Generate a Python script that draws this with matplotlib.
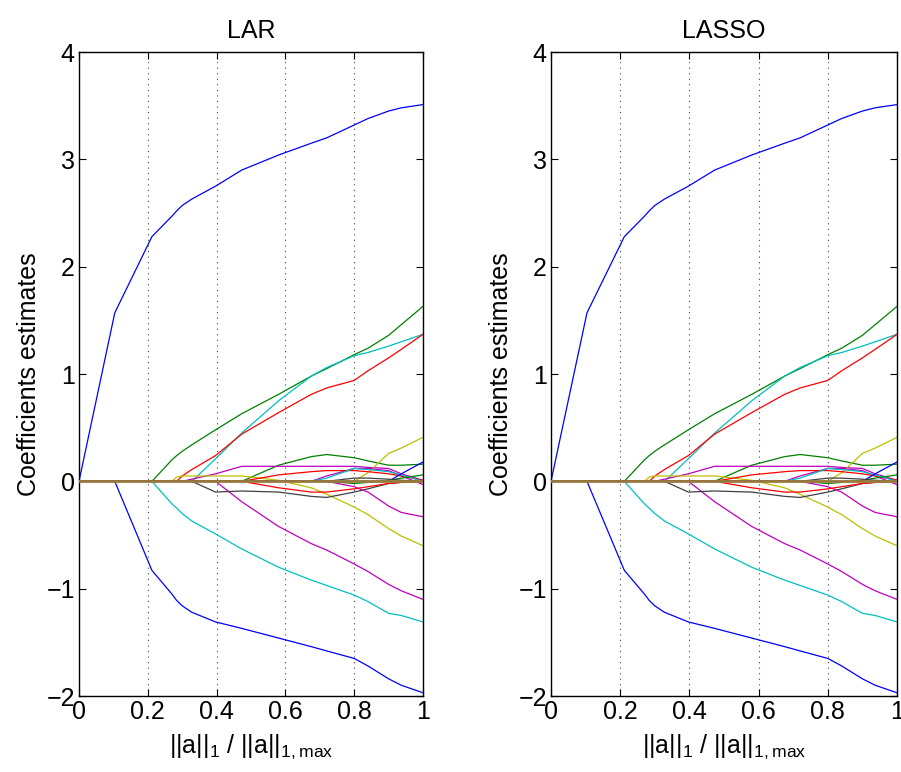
import numpy as np
import matplotlib
matplotlib.use('Agg')
import matplotlib.pyplot as plt

plt.rcParams['font.family'] = ['Liberation Sans', 'DejaVu Sans']
plt.rcParams['mathtext.default'] = 'regular'

# Normalised L1 norm at the breakpoints of the path
l1_ratio = [0, 0.104, 0.212, 0.27, 0.284, 0.30, 0.328, 0.397, 0.473,
            0.58, 0.675, 0.72, 0.80, 0.84, 0.90, 0.937, 1.0]

# Coefficient paths
blue_top = [0, 1.57, 2.28, 2.47, 2.52, 2.57, 2.63, 2.75, 2.90,
            3.04, 3.15, 3.20, 3.32, 3.38, 3.45, 3.48, 3.51]
blue_bottom = [0, 0, -0.83, -1.05, -1.11, -1.16, -1.22, -1.31, -1.37,
               -1.46, -1.54, -1.58, -1.65, -1.72, -1.84, -1.90, -1.97]
cyan_low = [0, 0, 0, -0.21, -0.25, -0.30, -0.37, -0.49, -0.63,
            -0.80, -0.92, -0.97, -1.06, -1.12, -1.23, -1.25, -1.31]
green_top = [0, 0, 0, 0.20, 0.24, 0.28, 0.34, 0.48, 0.63,
             0.81, 0.98, 1.05, 1.18, 1.24, 1.36, 1.46, 1.63]
cyan_up = [0, 0, 0, 0, 0, 0, 0, 0.21, 0.45,
           0.75, 0.98, 1.06, 1.17, 1.20, 1.26, 1.30, 1.37]
red_up = [0, 0, 0, 0, 0, 0.05, 0.11, 0.24, 0.44,
          0.64, 0.81, 0.87, 0.94, 1.03, 1.15, 1.23, 1.37]
green_mid = [0, 0, 0, 0, 0, 0, 0, 0, 0,
             0.15, 0.23, 0.25, 0.22, 0.19, 0.15, 0.15, 0.16]
magenta_up = [0, 0, 0, 0, 0, 0, 0.02, 0.07, 0.14,
              0.14, 0.14, 0.14, 0.14, 0.13, 0.12, 0.07, 0.01]
yellow_late = [0, 0, 0, 0, 0, 0, 0, 0, 0,
               0, 0, 0, 0, 0.08, 0.26, 0.31, 0.41]
yellow_early = [0, 0, 0, 0, 0.04, 0.05, 0.05, 0.05, 0.05,
                0.01, -0.06, -0.12, -0.24, -0.31, -0.44, -0.51, -0.60]
magenta_low = [0, 0, 0, 0, 0, 0, 0, 0, -0.19,
               -0.42, -0.58, -0.64, -0.77, -0.84, -0.96, -1.02, -1.10]
black = [0, 0, 0, 0, 0, 0, 0, -0.10, -0.09,
         -0.10, -0.14, -0.15, -0.10, -0.07, -0.02, -0.01, 0]
magenta_mid_a = [0, 0, 0, 0, 0, 0, 0, 0, 0,
                 0, 0, 0.05, 0.12, 0.12, 0.10, 0.05, -0.03]
magenta_mid_b = [0, 0, 0, 0, 0, 0, 0, 0, 0,
                 0, 0, 0, -0.05, -0.10, -0.23, -0.29, -0.33]
red_low = [0, 0, 0, 0, 0, 0, 0, 0, 0,
           -0.06, -0.10, -0.10, -0.07, -0.05, -0.02, -0.01, 0]
red_small = [0, 0, 0, 0, 0, 0, 0, 0, 0,
             0.06, 0.09, 0.10, 0.10, 0.09, 0.07, 0.05, 0.01]
cyan_small = [0, 0, 0, 0, 0, 0, 0, 0, 0,
              0, 0, 0.03, 0.12, 0.11, 0.09, 0.06, 0]
blue_small = [0, 0, 0, 0, 0, 0, 0, 0, 0,
              0, 0, 0, 0, 0, 0, 0.07, 0.18]
green_late = [0, 0, 0, 0, 0, 0, 0, 0, 0,
              0, 0, 0, -0.02, -0.01, 0.01, 0.03, 0.06]
black_small = [0, 0, 0, 0, 0, 0, 0, 0, 0,
               0, 0, 0, 0.03, 0.03, 0.02, 0.01, 0]

# MATLAB style colours
B, G, R = (0, 0, 1), (0, 0.5, 0), (1, 0, 0)
C, M, Y, K = (0, 0.75, 0.75), (0.75, 0, 0.75), (0.75, 0.75, 0), (0.25, 0.25, 0.25)

paths = [
    (blue_top, B), (blue_bottom, B), (cyan_low, C), (green_top, G),
    (cyan_up, C), (red_up, R), (green_mid, G), (magenta_up, M),
    (yellow_late, Y), (yellow_early, Y), (magenta_low, M), (black, K),
    (magenta_mid_a, M), (magenta_mid_b, M), (red_low, R), (red_small, R),
    (cyan_small, C), (blue_small, B), (green_late, G), (black_small, K),
]

titles = ['LAR', 'LASSO']

fig = plt.figure(figsize=(9.01, 7.72), dpi=100)
W, H = 901, 772
boxes = [(79, 52, 423, 696), (551, 52, 897, 696)]
fs = 18

for title, (x0, y0, x1, y1) in zip(titles, boxes):
    ax = fig.add_axes([x0 / W, 1 - y1 / H, (x1 - x0) / W, (y1 - y0) / H])
    for vals, col in paths:
        ax.plot(l1_ratio, vals, color=col, lw=0.9)
    # overlapping inactive coefficients at zero
    ax.axhline(0, color='#9a7a3c', lw=2.0, zorder=3)

    ax.set_xlim(0, 1)
    ax.set_ylim(-2, 4)
    ax.set_xticks([0, 0.2, 0.4, 0.6, 0.8, 1])
    ax.set_xticklabels(['0', '0.2', '0.4', '0.6', '0.8', '1'])
    ax.set_yticks(range(-2, 5))
    ax.set_yticklabels(['\u22122', '\u22121', '0', '1', '2', '3', '4'])
    ax.tick_params(direction='in', top=True, right=True, labelsize=fs,
                   length=5, width=0.8, pad=3)
    ax.xaxis.grid(True, linestyle=(0, (1, 4)), color='#444444', lw=0.8)
    for s in ax.spines.values():
        s.set_linewidth(1.0)
        s.set_color('black')
    ax.set_title(title, fontsize=fs, pad=10)
    ax.set_xlabel(r'||a||$_1$ / ||a||$_{1,max}$', fontsize=fs, labelpad=6)
    ax.set_ylabel('Coefficients estimates', fontsize=fs, labelpad=4)

fig.savefig('out.png', dpi=100)
